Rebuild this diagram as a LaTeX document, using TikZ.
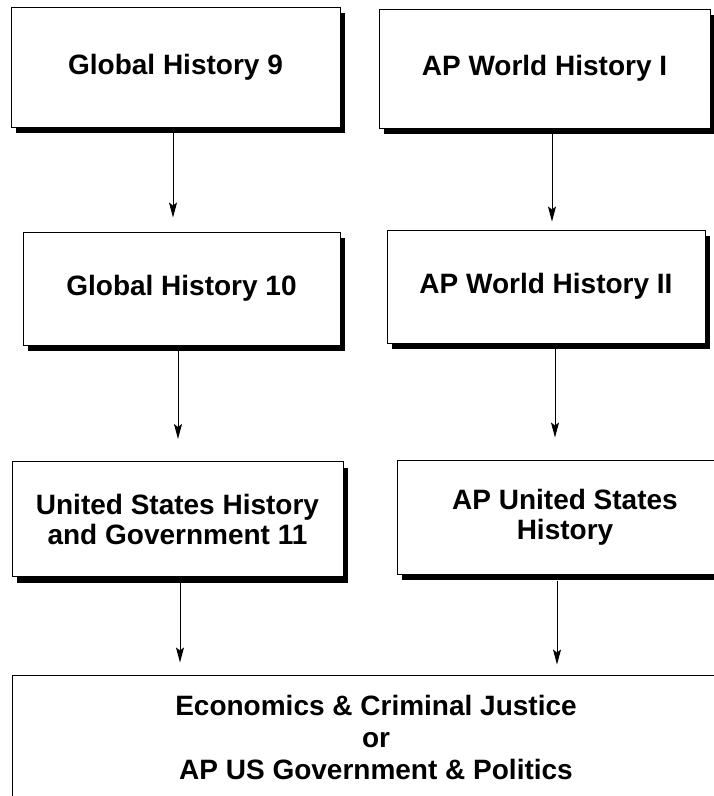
\documentclass[tikz,border=0pt]{standalone}
\usepackage{fontspec}
\setmainfont{Liberation Sans}
\usetikzlibrary{shadows,arrows.meta}

\tikzset{
	course/.style={draw, line width=1pt, fill=white, align=center, inner sep=0pt,
		font=\fontsize{28}{30}\selectfont\bfseries,
		drop shadow={shadow xshift=5pt, shadow yshift=-6pt, fill=black, opacity=1}},
	arr/.style={line width=1pt, -{Stealth[length=15pt,width=8pt,inset=3pt]}}
}

\begin{document}
\begin{tikzpicture}[x=1pt,y=-1pt]
					\useasboundingbox (0,0) rectangle (714,796);
					\clip (0,0) rectangle (714,796);
					
					\node[course, minimum width=329pt, minimum height=120pt] (gh9) at (175.5,67) {Global History 9};
					\node[course, minimum width=331pt, minimum height=119pt] (apw1) at (544.5,68.5) {AP World History I};
					
					\node[course, minimum width=317pt, minimum height=113pt] (gh10) at (181.5,288.5) {Global History 10};
					\node[course, minimum width=318pt, minimum height=113pt] (apw2) at (546,286.5) {AP World History II};
					
					\node[course, minimum width=331pt, minimum height=115pt] (ush) at (177.5,519) {United States History\\and Government 11};
					\node[course, minimum width=336pt, minimum height=114pt] (apus) at (565,517) {AP United States\\History};
					
					\node[course, minimum width=728pt, minimum height=124pt, font=\fontsize{28}{32}\selectfont\bfseries] (civ) at (376,737) {Economics \& Criminal Justice\\or\\AP US Government \& Politics};
					
					\draw[arr, shorten >=14pt] ([xshift=-2.5pt]gh9.south) -- ([xshift=-2.5pt]gh9.south |- gh10.north);
					\draw[arr, shorten >=8pt] ([xshift=7.5pt]apw1.south) -- ([xshift=7.5pt]apw1.south |- apw2.north);
					\draw[arr, shorten >=22pt] ([xshift=-3.5pt]gh10.south) -- ([xshift=-3.5pt]gh10.south |- ush.north);
					\draw[arr, shorten >=22pt] ([xshift=9pt]apw2.south) -- ([xshift=9pt]apw2.south |- apus.north);
					\draw[arr, shorten <=3pt, shorten >=12pt] ([xshift=2.5pt]ush.south) -- ([xshift=2.5pt]ush.south |- civ.north);
					\draw[arr, shorten <=6pt, shorten >=10pt] ([xshift=-8pt]apus.south) -- ([xshift=-8pt]apus.south |- civ.north);
\end{tikzpicture}
\end{document}
